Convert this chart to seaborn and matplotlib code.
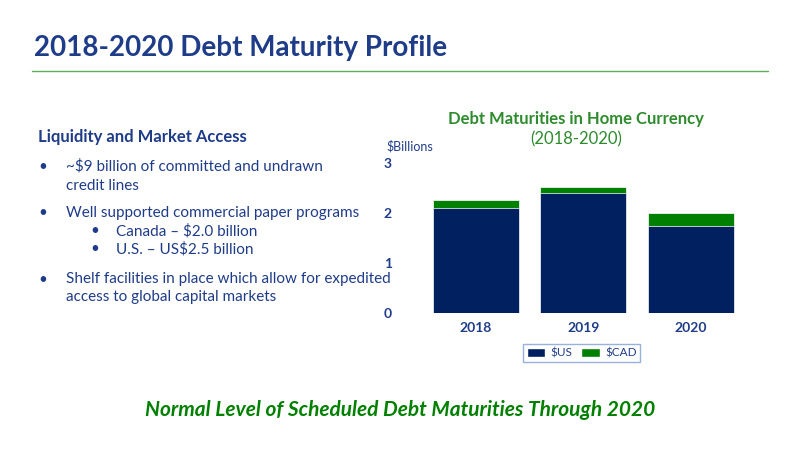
import matplotlib
matplotlib.use("Agg")
import matplotlib.pyplot as plt
import seaborn as sns
import pandas as pd
from matplotlib.patches import Patch
from matplotlib.lines import Line2D

years = ["2018", "2019", "2020"]
us_vals = [2.10, 2.40, 1.75]
cad_vals = [0.15, 0.11, 0.25]

NAVY = "#002060"
GREEN = "#008000"
TITLE_BLUE = "#1F3C88"

sns.set_theme(style="white")
plt.rcParams['font.family'] = ['Lato', 'DejaVu Sans']

df = pd.DataFrame({"year": years, "us": us_vals,
                   "total": [u + c for u, c in zip(us_vals, cad_vals)]})

fig = plt.figure(figsize=(8, 4.5), dpi=100)
fig.patch.set_facecolor("white")

# slide title and rule
fig.text(0.043, 0.875, "2018-2020 Debt Maturity Profile", fontsize=20, fontweight="bold",
         color=TITLE_BLUE)
fig.add_artist(Line2D([0.04, 0.96], [0.843, 0.843], color="#5BAE5B", lw=1))

# left text block
fig.text(0.048, 0.685, "Liquidity and Market Access", fontsize=12, fontweight="bold", color=TITLE_BLUE)
lines = [
    (0.048, 0.62, "•", 0.083, "~$9 billion of committed and undrawn"),
    (None, 0.578, None, 0.083, "credit lines"),
    (0.048, 0.517, "•", 0.083, "Well supported commercial paper programs"),
    (0.113, 0.477, "•", 0.145, "Canada – $2.0 billion"),
    (0.113, 0.437, "•", 0.145, "U.S. – US$2.5 billion"),
    (0.048, 0.37, "•", 0.083, "Shelf facilities in place which allow for expedited"),
    (None, 0.33, None, 0.083, "access to global capital markets"),
]
for bx, y, b, tx, t in lines:
    if b:
        fig.text(bx, y, b, fontsize=11, color=TITLE_BLUE)
    fig.text(tx, y, t, fontsize=11, color=TITLE_BLUE)

# chart
ax = fig.add_axes([0.514, 0.304, 0.43, 0.334])
sns.barplot(data=df, x="year", y="total", color=GREEN, width=0.8, saturation=1, ax=ax)
sns.barplot(data=df, x="year", y="us", color=NAVY, width=0.8, saturation=1, ax=ax)
for p in ax.patches:
    p.set_edgecolor("white")
    p.set_linewidth(0.5)
ax.set_xlim(-0.6, 2.6)
ax.set_ylim(0, 3)
ax.set_yticks([0, 1, 2, 3])
ax.set_xlabel("")
ax.set_ylabel("")
sns.despine(ax=ax, left=True, bottom=True)
ax.tick_params(axis="both", length=0, labelsize=10, colors=TITLE_BLUE)
for lbl in ax.get_xticklabels() + ax.get_yticklabels():
    lbl.set_fontweight("bold")
ax.tick_params(axis="y", pad=14)
ax.tick_params(axis="x", pad=6)

fig.text(0.483, 0.665, "$Billions", fontsize=9, color=TITLE_BLUE)
fig.text(0.72, 0.725, "Debt Maturities in Home Currency", fontsize=12, fontweight="bold",
         color="#2E8B2E", ha="center")
fig.text(0.72, 0.68, "(2018-2020)", fontsize=12, color="#2E8B2E", ha="center")

handles = [Patch(facecolor=NAVY, label="$US"), Patch(facecolor=GREEN, label="$CAD")]
leg = fig.legend(handles=handles, loc="center", bbox_to_anchor=(0.727, 0.215), ncol=2,
                 fontsize=8.5, frameon=True, handlelength=1.6, handleheight=0.8,
                 columnspacing=0.8, handletextpad=0.4, borderpad=0.3, fancybox=False)
leg.get_frame().set_edgecolor("#7F9FD0")
for t in leg.get_texts():
    t.set_color(TITLE_BLUE)

fig.text(0.5, 0.075, "Normal Level of Scheduled Debt Maturities Through 2020", fontsize=15,
         fontweight="bold", fontstyle="italic", color="#008000", ha="center")

fig.savefig("out.png", dpi=100, facecolor="white")
